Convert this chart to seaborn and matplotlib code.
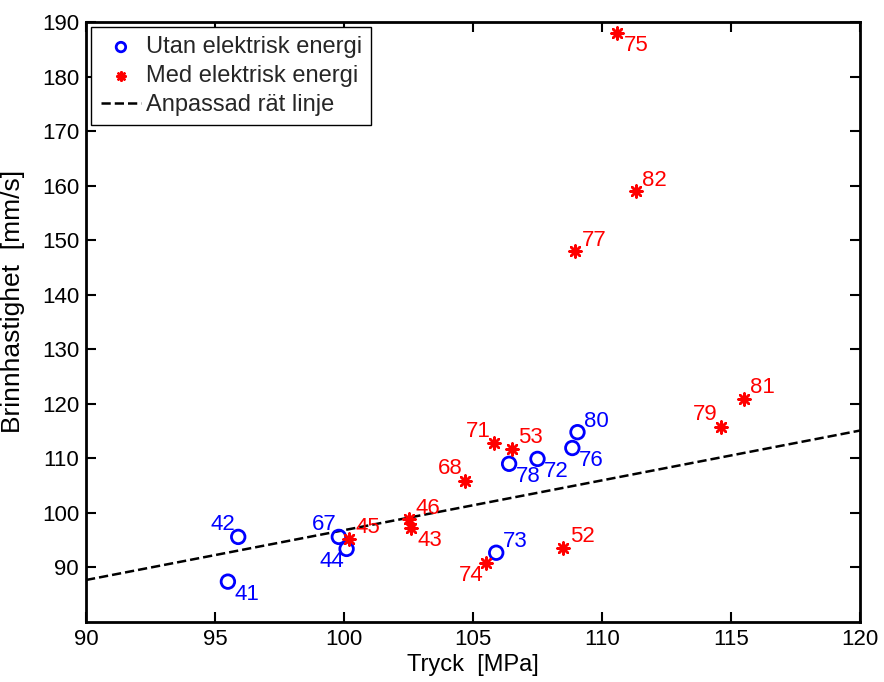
import matplotlib
matplotlib.use("Agg")
import matplotlib.pyplot as plt
import seaborn as sns
import pandas as pd

# --- data -------------------------------------------------------------
utan_x = [95.5, 95.9, 99.8, 100.1, 105.9, 106.4, 107.5, 108.85, 109.05]
utan_y = [87.4, 95.6, 95.6, 93.4, 92.7, 109.0, 109.9, 111.9, 114.8]
utan_lbl = ["41", "42", "67", "44", "73", "78", "72", "76", "80"]

med_x = [100.2, 102.5, 102.6, 104.7, 105.8, 106.5, 105.5, 108.5, 108.95, 111.3, 110.6, 114.6, 115.5]
med_y = [95.3, 98.8, 97.3, 105.9, 112.8, 111.8, 90.9, 93.6, 148.0, 159.0, 188.0, 115.8, 120.9]
med_lbl = ["45", "46", "43", "68", "71", "53", "74", "52", "77", "82", "75", "79", "81"]

fit_x = [90, 120]
fit_y = [87.7, 115.1]

# label placement (direction of text relative to marker)
utan_dir = ["lr", "ul", "ul", "ll", "ur", "lr", "lr", "lr", "ur"]
med_dir = ["ur", "ur", "lr", "ul", "ul", "ur", "ll", "ur", "ur", "ur", "lr", "ul", "ur"]

# --- plotting ---------------------------------------------------------
sns.set_style("white")
plt.rcParams["font.family"] = ["Liberation Sans", "DejaVu Sans"]

fig = plt.figure(figsize=(8.84, 6.82), dpi=100)
ax = fig.add_axes([86 / 884, 60 / 682, 774 / 884, 600 / 682])

df_u = pd.DataFrame({"x": utan_x, "y": utan_y})
df_m = pd.DataFrame({"x": med_x, "y": med_y})
df_f = pd.DataFrame({"x": fit_x, "y": fit_y})

sns.scatterplot(data=df_u, x="x", y="y", ax=ax, marker="o", s=95,
                facecolor="none", edgecolor="#0000ff", linewidth=2,
                label="Utan elektrisk energi", zorder=3)
sns.scatterplot(data=df_m, x="x", y="y", ax=ax, marker=(8, 2, 0), s=75,
                color="#ff0000", edgecolor="#ff0000", linewidth=1.8,
                label="Med elektrisk energi", zorder=3)
sns.lineplot(data=df_f, x="x", y="y", ax=ax, color="black", linestyle="--",
             linewidth=1.8, label="Anpassad rät linje", zorder=2)

offs = {"ur": (19, 11), "ul": (-15, 12), "lr": (19, -13), "ll": (-15, -13)}
for xs, ys, ls, ds, c in [(utan_x, utan_y, utan_lbl, utan_dir, "#0000ff"),
                          (med_x, med_y, med_lbl, med_dir, "#ff0000")]:
    for x, y, l, d in zip(xs, ys, ls, ds):
        ax.annotate(l, (x, y), xytext=offs[d], textcoords="offset pixels",
                    ha="center", va="center", color=c, fontsize=16)

ax.set_xlim(90, 120)
ax.set_ylim(80, 190)
ax.set_xticks(range(90, 121, 5))
ax.set_yticks(range(90, 191, 10))
ax.set_xlabel("Tryck  [MPa]", fontsize=17, labelpad=3, color="black")
ax.set_ylabel("Brinnhastighet  [mm/s]", fontsize=19, labelpad=3, color="black")
ax.yaxis.set_label_coords(-0.079, 0.535)
ax.tick_params(direction="in", length=7, width=1.5, labelsize=16,
               top=True, right=True, bottom=True, left=True, pad=5,
               colors="black")
for sp in ax.spines.values():
    sp.set_visible(True)
    sp.set_linewidth(2)
    sp.set_color("black")

leg = ax.legend(loc="upper left", bbox_to_anchor=(0.007, 0.992),
                fontsize=17, frameon=True, fancybox=False,
                edgecolor="black", framealpha=1, borderpad=0.4,
                labelspacing=0.29, handlelength=1.7, handletextpad=0.2,
                borderaxespad=0, markerscale=0.7)
leg.get_frame().set_linewidth(1)

fig.savefig("out.png", dpi=100)
